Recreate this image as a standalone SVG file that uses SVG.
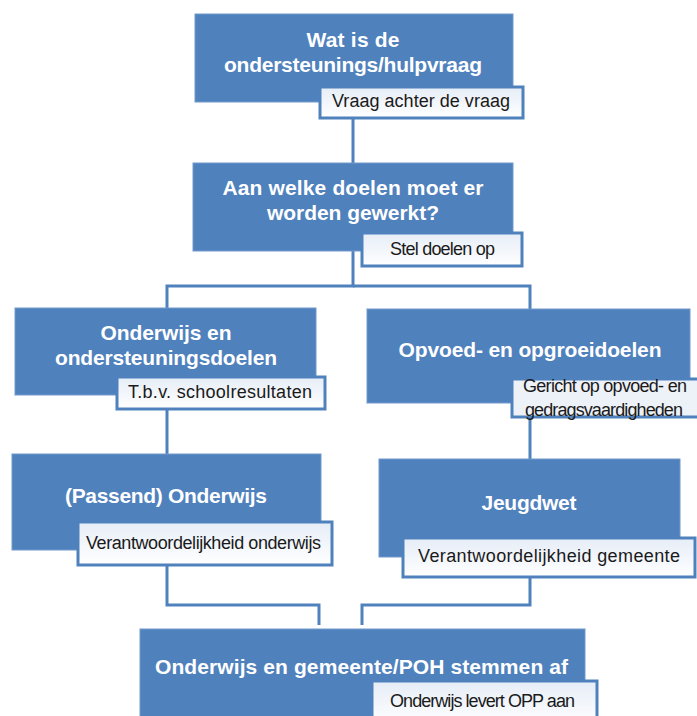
<svg xmlns="http://www.w3.org/2000/svg" width="697" height="716" viewBox="0 0 697 716">
<defs>
<linearGradient id="subfill" x1="0" y1="0" x2="0" y2="1">
<stop offset="0" stop-color="#e6edf7"/>
<stop offset="1" stop-color="#ffffff"/>
</linearGradient>
<style>
.box{fill:#4f81bd;stroke:#7399cc;stroke-width:1}
.sub{fill:url(#subfill);stroke:#4f81bd;stroke-width:3}
.conn{fill:none;stroke:#4f81bd;stroke-width:3}
.t{font-family:"Liberation Sans",Arial,sans-serif;font-weight:bold;font-size:21px;fill:#ffffff;text-anchor:middle}
.s{font-family:"Liberation Sans",Arial,sans-serif;font-size:18px;fill:#1a1a1a}
</style>
</defs>
<rect width="697" height="716" fill="#ffffff"/>
<g id="connectors">
<path class="conn" d="M353,118 V163"/>
<path class="conn" d="M353,251 V286 H167 V308"/>
<path class="conn" d="M353,286 H530 V309"/>
<path class="conn" d="M167,395 V454"/>
<path class="conn" d="M530,403 V459"/>
<path class="conn" d="M167,550 V605 H319 V625"/>
<path class="conn" d="M530,557 V605 H362 V625"/>
</g>
<g id="n1">
<rect class="box" x="195" y="14" width="318" height="88"/>
<text class="t" x="353" y="47" textLength="93">Wat is de</text>
<text class="t" x="353" y="72" textLength="258">ondersteunings/hulpvraag</text>
<rect class="sub" x="320" y="87" width="203" height="31"/>
<text class="s" x="332" y="107" textLength="178">Vraag achter de vraag</text>
</g>
<g id="n2">
<rect class="box" x="193" y="163" width="320" height="88"/>
<text class="t" x="353" y="195" textLength="261">Aan welke doelen moet er</text>
<text class="t" x="353" y="220" textLength="172">worden gewerkt?</text>
<rect class="sub" x="362" y="233" width="160" height="33"/>
<text class="s" x="390" y="255" font-size="16.5" textLength="105">Stel doelen op</text>
</g>
<g id="n3">
<rect class="box" x="15" y="308" width="301" height="87"/>
<text class="t" x="166" y="340" textLength="131">Onderwijs en</text>
<text class="t" x="166" y="365" textLength="222">ondersteuningsdoelen</text>
<rect class="sub" x="117" y="377" width="208" height="32"/>
<text class="s" x="128" y="398" textLength="184">T.b.v. schoolresultaten</text>
</g>
<g id="n4">
<rect class="box" x="367" y="309" width="323" height="94"/>
<text class="t" x="530" y="357" textLength="263">Opvoed- en opgroeidoelen</text>
<rect class="sub" x="512" y="379" width="190" height="38" style="fill:#edf1f8"/>
<text class="s" x="523" y="392" font-size="16.5" textLength="164">Gericht op opvoed- en</text>
<text class="s" x="525" y="416" font-size="16.5" textLength="158">gedragsvaardigheden</text>
</g>
<g id="n5">
<rect class="box" x="12" y="454" width="309" height="96"/>
<text class="t" x="166" y="503" textLength="202">(Passend) Onderwijs</text>
<rect class="sub" x="78" y="522" width="254" height="43"/>
<text class="s" x="86" y="549" textLength="235">Verantwoordelijkheid onderwijs</text>
</g>
<g id="n6">
<rect class="box" x="379" y="459" width="301" height="98"/>
<text class="t" x="529" y="510" textLength="95">Jeugdwet</text>
<rect class="sub" x="403" y="538" width="292" height="39"/>
<text class="s" x="418" y="562" textLength="262">Verantwoordelijkheid gemeente</text>
</g>
<g id="n7">
<rect class="box" x="140" y="629" width="445" height="95"/>
<text class="t" x="361.5" y="674" textLength="413">Onderwijs en gemeente/POH stemmen af</text>
<rect class="sub" x="372" y="681" width="225" height="45"/>
<text class="s" x="390" y="707" textLength="185">Onderwijs levert OPP aan</text>
</g>
</svg>
